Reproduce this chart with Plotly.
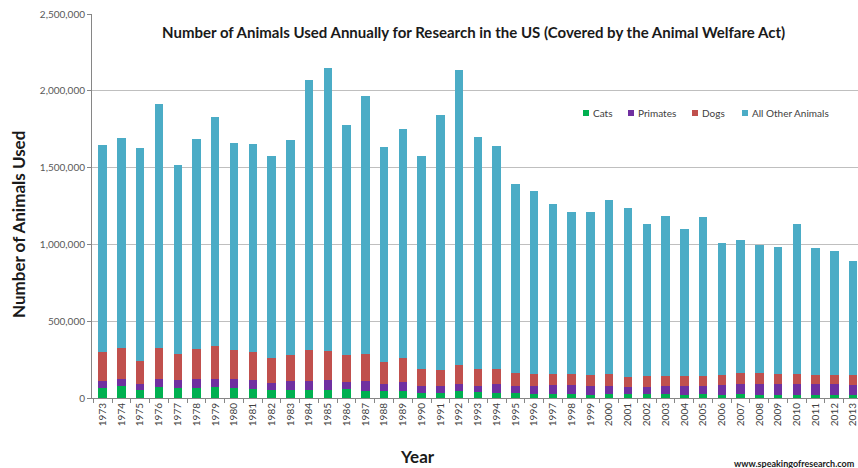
import plotly.graph_objects as go

years = [str(y) for y in range(1973, 2014)]

totals = [1650000, 1690000, 1625000, 1915000, 1515000, 1685000, 1830000, 1660000, 1655000, 1575000,
          1680000, 2070000, 2150000, 1775000, 1969000, 1632000, 1750000, 1577000, 1840000, 2135000,
          1700000, 1640000, 1395000, 1345000, 1265000, 1213000, 1213000, 1287000, 1236000, 1135000,
          1185000, 1100000, 1177000, 1010000, 1028000, 998000, 980000, 1135000, 975000, 955000, 890000]

cats = [65000, 76000, 54000, 72000, 63000, 65000, 72000, 67000, 57000, 50000,
        50000, 54000, 52000, 57000, 48000, 43000, 48000, 35000, 35000, 43000,
        37000, 30000, 30000, 24000, 24000, 24000, 22000, 24000, 24000, 24000,
        24000, 22000, 24000, 22000, 24000, 22000, 20000, 22000, 22000, 22000, 22000]

primates = [46000, 48000, 35000, 50000, 52000, 59000, 54000, 57000, 58000, 48000,
            61000, 57000, 63000, 47000, 65000, 50000, 54000, 43000, 41000, 48000,
            43000, 59000, 46000, 52000, 59000, 59000, 54000, 56000, 48000, 50000,
            52000, 56000, 52000, 61000, 67000, 69000, 73000, 69000, 71000, 67000, 65000]

dogs = [191000, 200000, 152000, 206000, 174000, 196000, 213000, 187000, 187000, 161000,
        169000, 202000, 192000, 176000, 176000, 140000, 157000, 111000, 109000, 124000,
        109000, 100000, 89000, 83000, 76000, 76000, 74000, 74000, 65000, 69000,
        67000, 63000, 65000, 65000, 70000, 70000, 64000, 66000, 57000, 61000, 65000]

others = [t - c - p - d for t, c, p, d in zip(totals, cats, primates, dogs)]

series_names = ["Cats", "Primates", "Dogs", "All Other Animals"]
series_colors = ["#00B050", "#7030A0", "#C0504D", "#4BACC6"]
series_values = [cats, primates, dogs, others]

W, H = 858, 468
ML, MR, MT, MB = 92, 0, 14, 70
PW, PH = W - ML - MR, H - MT - MB


def px_x(x):
    return (x - ML) / PW


def px_y(y):
    return (H - MB - y) / PH


fig = go.Figure()
for name, vals, color in zip(series_names, series_values, series_colors):
    fig.add_trace(go.Bar(x=years, y=vals, name=name, showlegend=False,
                         marker=dict(color=color, line=dict(width=0))))

font_family = "Lato, 'Open Sans', sans-serif"

fig.update_layout(
    barmode="stack",
    bargap=0.55,
    width=W,
    height=H,
    margin=dict(l=ML, r=MR, t=MT, b=MB),
    paper_bgcolor="white",
    plot_bgcolor="white",
    font=dict(family=font_family, color="#595959", size=10),
    title=dict(
        text="<b>Number of Animals Used Annually for Research in the US (Covered by the Animal Welfare Act)</b>",
        x=0.552, xanchor="center", y=0.93, yanchor="middle",
        font=dict(size=15, color="#1a1a1a", family=font_family),
    ),
    showlegend=False,
)

fig.update_xaxes(
    type="category",
    range=[-0.57, 40.26],
    tickangle=-90,
    tickfont=dict(size=10, color="#404040"),
    showline=True, linecolor="#868686", linewidth=1,
    ticks="outside", ticklen=4, tickcolor="#868686", tickson="boundaries",
    showgrid=False,
)

fig.update_yaxes(
    range=[0, 2500000],
    dtick=500000,
    tickformat=",d",
    tickfont=dict(size=10, color="#595959"),
    showline=True, linecolor="#868686", linewidth=1,
    ticks="outside", ticklen=4, tickcolor="#868686",
    showgrid=True, gridcolor="#BFBFBF", gridwidth=1,
    zeroline=False,
)

# axis titles
fig.add_annotation(text="<b>Number of Animals Used</b>", textangle=-90,
                   xref="paper", yref="paper", x=px_x(18), y=px_y(225),
                   xanchor="center", yanchor="middle", showarrow=False,
                   font=dict(size=17, color="#1a1a1a", family=font_family))
fig.add_annotation(text="<b>Year</b>",
                   xref="paper", yref="paper", x=px_x(417), y=px_y(456),
                   xanchor="center", yanchor="middle", showarrow=False,
                   font=dict(size=17, color="#1a1a1a", family=font_family))

# legend
legend_sq_x = [583, 628, 692, 742]
legend_y = 113
for name, color, sx in zip(series_names, series_colors, legend_sq_x):
    fig.add_shape(type="rect", xref="paper", yref="paper",
                  x0=px_x(sx), x1=px_x(sx + 6), y0=px_y(legend_y + 3), y1=px_y(legend_y - 3),
                  fillcolor=color, line=dict(width=0))
    fig.add_annotation(text=name, xref="paper", yref="paper",
                       x=px_x(sx + 8), y=px_y(legend_y), xanchor="left", yanchor="middle",
                       showarrow=False, font=dict(size=10, color="#404040", family=font_family))

fig.add_annotation(
    text="<b>www.speakingofresearch.com</b>",
    xref="paper", yref="paper", x=px_x(857), y=px_y(463), xanchor="right", yanchor="middle",
    showarrow=False, font=dict(size=9, color="#1a1a1a", family=font_family),
)

fig.write_html("out.html")
